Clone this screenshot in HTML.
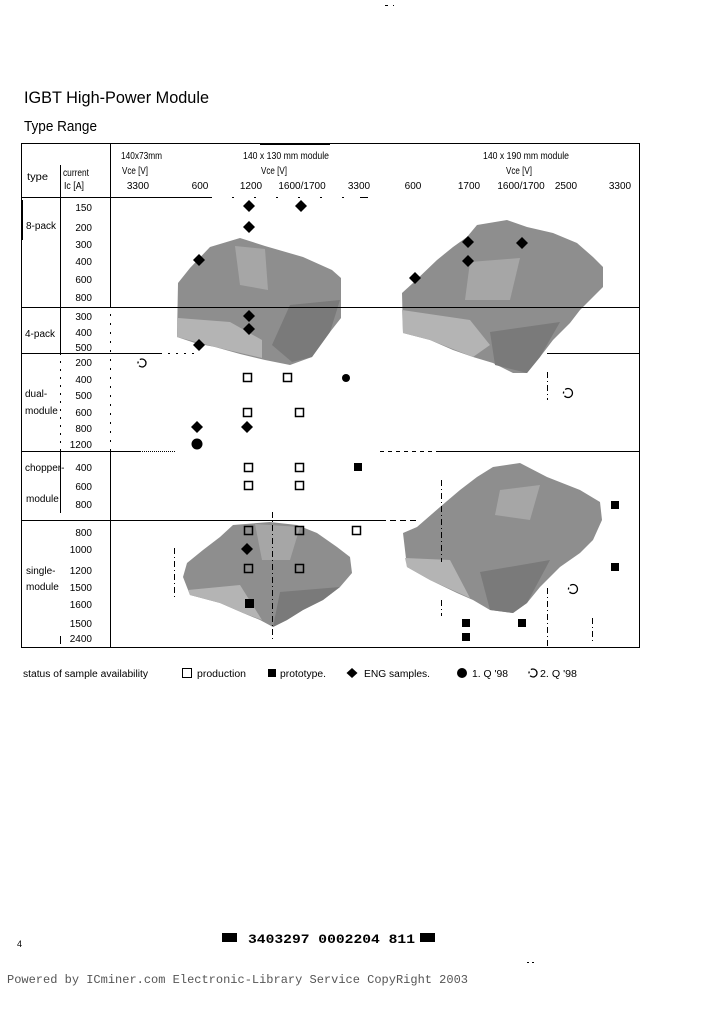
<!DOCTYPE html>
<html><head><meta charset="utf-8"><style>
html,body{margin:0;padding:0;background:#fff;}
svg{display:block;}
text{font-family:"Liberation Sans",sans-serif;fill:#000;}
.t{font-size:10px;}
</style></head><body>
<svg width="720" height="1012" viewBox="0 0 720 1012" xmlns="http://www.w3.org/2000/svg">
<rect width="720" height="1012" fill="#fff"/>

<!-- tiny top marks -->
<rect x="385" y="5" width="3" height="1" fill="#000"/><rect x="393" y="5" width="1" height="1" fill="#000"/>
<rect x="527" y="962" width="2" height="1" fill="#000"/><rect x="532" y="962" width="2" height="1" fill="#000"/>

<!-- titles -->
<text x="24" y="103" font-size="16.5" textLength="185" lengthAdjust="spacingAndGlyphs">IGBT High-Power Module</text>
<text x="24" y="131" font-size="14.5" textLength="73" lengthAdjust="spacingAndGlyphs">Type Range</text>

<!-- blobs -->
<g>
<polygon fill="#8e8e8e" points="210,247 240,238 265,246 303,257 332,270 341,278 341,318 330,332 312,357 290,365 265,360 240,354 215,347 195,343 177,337 178,283 190,268"/>
<polygon fill="#b4b4b4" points="178,318 230,322 262,340 262,358 215,347 177,337"/>
<polygon fill="#a6a6a6" points="235,246 265,249 268,290 240,285"/>
<polygon fill="#7a7a7a" points="290,305 340,300 330,332 312,357 292,362 272,345"/>

<polygon fill="#8e8e8e" points="477,225 507,220 527,227 553,233 577,243 593,257 603,267 603,287 593,297 580,310 570,323 553,340 540,357 527,373 513,373 493,363 473,357 453,350 430,340 403,333 402,293 413,283 437,260 453,247 467,237"/>
<polygon fill="#b4b4b4" points="402,310 470,320 490,345 473,357 430,340 403,333"/>
<polygon fill="#a6a6a6" points="470,262 520,258 510,300 465,300"/>
<polygon fill="#7a7a7a" points="490,332 560,322 540,357 527,373 495,365"/>

<polygon fill="#8e8e8e" points="493,467 520,463 547,477 580,490 600,502 602,520 593,540 580,553 560,567 540,587 527,603 513,613 490,610 473,600 457,593 430,580 407,567 403,533 417,527 440,507 460,490 477,477"/>
<polygon fill="#b4b4b4" points="405,558 450,560 470,598 430,580 407,567"/>
<polygon fill="#a6a6a6" points="500,490 540,485 530,520 495,515"/>
<polygon fill="#7a7a7a" points="480,572 550,560 527,603 513,613 490,610"/>

<polygon fill="#8e8e8e" points="233,525 270,522 297,525 317,533 337,547 350,557 352,573 340,587 323,600 303,610 287,620 273,627 260,620 243,613 220,603 190,595 183,577 187,563 203,550 220,537"/>
<polygon fill="#b4b4b4" points="188,590 240,585 262,620 243,613 220,603 190,595"/>
<polygon fill="#a6a6a6" points="255,524 300,527 290,560 262,560"/>
<polygon fill="#7a7a7a" points="280,592 340,587 323,600 303,610 287,620 273,627"/>
</g>

<!-- table lines -->
<g stroke="#000" stroke-width="1" fill="none" shape-rendering="crispEdges">
<line x1="21" y1="143.5" x2="639" y2="143.5"/>
<line x1="260" y1="144.5" x2="330" y2="144.5"/>
<line x1="21.5" y1="143" x2="21.5" y2="648"/>
<line x1="22.5" y1="200" x2="22.5" y2="240"/>
<line x1="639.5" y1="143" x2="639.5" y2="648"/>
<line x1="21" y1="647.5" x2="640" y2="647.5"/>
<line x1="21" y1="197.5" x2="210" y2="197.5"/>
<line x1="210" y1="197.5" x2="360" y2="197.5" stroke-dasharray="2 20"/>
<line x1="360" y1="197.5" x2="368" y2="197.5"/>
<line x1="21" y1="307.5" x2="639" y2="307.5"/>
<line x1="21" y1="353.5" x2="160" y2="353.5"/>
<line x1="160" y1="353.5" x2="200" y2="353.5" stroke-dasharray="2 6"/>
<line x1="547" y1="353.5" x2="639" y2="353.5"/>
<line x1="21" y1="451.5" x2="140" y2="451.5"/>
<line x1="140" y1="451.5" x2="175" y2="451.5" stroke-dasharray="1 1"/>
<line x1="380" y1="451.5" x2="440" y2="451.5" stroke-dasharray="4 4"/>
<line x1="440" y1="451.5" x2="639" y2="451.5"/>
<line x1="21" y1="520.5" x2="380" y2="520.5"/>
<line x1="380" y1="520.5" x2="420" y2="520.5" stroke-dasharray="6 4"/>
<line x1="60.5" y1="165" x2="60.5" y2="353"/>
<line x1="60.5" y1="353" x2="60.5" y2="452" stroke-dasharray="2 6"/>
<line x1="60.5" y1="452" x2="60.5" y2="513"/>
<line x1="60.5" y1="636" x2="60.5" y2="644"/>
<line x1="110.5" y1="143" x2="110.5" y2="305"/>
<line x1="110.5" y1="305" x2="110.5" y2="452" stroke-dasharray="2 7"/>
<line x1="110.5" y1="452" x2="110.5" y2="648"/>
<g stroke-dasharray="6 3 1 3">
<line x1="174.5" y1="548" x2="174.5" y2="597"/>
<line x1="272.5" y1="512" x2="272.5" y2="640"/>
<line x1="441.5" y1="480" x2="441.5" y2="562"/>
<line x1="441.5" y1="600" x2="441.5" y2="616"/>
<line x1="547.5" y1="588" x2="547.5" y2="646"/>
<line x1="547.5" y1="372" x2="547.5" y2="400"/>
<line x1="592.5" y1="618" x2="592.5" y2="642"/>
</g>
</g>

<!-- header text -->
<g class="t">
<text x="27" y="180" textLength="21" lengthAdjust="spacingAndGlyphs">type</text>
<text x="63" y="176" textLength="26" lengthAdjust="spacingAndGlyphs">current</text>
<text x="64" y="189" textLength="20" lengthAdjust="spacingAndGlyphs">Ic [A]</text>
<text x="121" y="159" textLength="41" lengthAdjust="spacingAndGlyphs">140x73mm</text>
<text x="122" y="174" textLength="26" lengthAdjust="spacingAndGlyphs">Vce [V]</text>
<text x="243" y="159" textLength="86" lengthAdjust="spacingAndGlyphs">140 x 130 mm module</text>
<text x="261" y="174" textLength="26" lengthAdjust="spacingAndGlyphs">Vce [V]</text>
<text x="483" y="159" textLength="86" lengthAdjust="spacingAndGlyphs">140 x 190 mm module</text>
<text x="506" y="174" textLength="26" lengthAdjust="spacingAndGlyphs">Vce [V]</text>
<g text-anchor="middle">
<text x="138" y="189">3300</text>
<text x="200" y="189">600</text>
<text x="251" y="189">1200</text>
<text x="302" y="189">1600/1700</text>
<text x="359" y="189">3300</text>
<text x="413" y="189">600</text>
<text x="469" y="189">1700</text>
<text x="521" y="189">1600/1700</text>
<text x="566" y="189">2500</text>
<text x="620" y="189">3300</text>
</g>
</g>

<!-- row labels -->
<g class="t" text-anchor="end">
<text x="92" y="211">150</text>
<text x="92" y="231">200</text>
<text x="92" y="248">300</text>
<text x="92" y="265">400</text>
<text x="92" y="283">600</text>
<text x="92" y="301">800</text>
<text x="92" y="320">300</text>
<text x="92" y="336">400</text>
<text x="92" y="351">500</text>
<text x="92" y="366">200</text>
<text x="92" y="383">400</text>
<text x="92" y="399">500</text>
<text x="92" y="416">600</text>
<text x="92" y="432">800</text>
<text x="92" y="448">1200</text>
<text x="92" y="471">400</text>
<text x="92" y="490">600</text>
<text x="92" y="508">800</text>
<text x="92" y="536">800</text>
<text x="92" y="553">1000</text>
<text x="92" y="574">1200</text>
<text x="92" y="591">1500</text>
<text x="92" y="608">1600</text>
<text x="92" y="627">1500</text>
<text x="92" y="642">2400</text>
</g>
<g class="t">
<text x="26" y="229">8-pack</text>
<text x="25" y="337">4-pack</text>
<text x="25" y="397">dual-</text>
<text x="25" y="414">module</text>
<text x="25" y="471">chopper-</text>
<text x="26" y="502">module</text>
<text x="26" y="574">single-</text>
<text x="26" y="590">module</text>
</g>

<!-- markers -->
<g fill="#000">
<polygon points="249,200 255,206 249,212 243,206"/>
<polygon points="301,200 307,206 301,212 295,206"/>
<polygon points="249,221 255,227 249,233 243,227"/>
<polygon points="199,254 205,260 199,266 193,260"/>
<polygon points="249,310 255,316 249,322 243,316"/>
<polygon points="249,323 255,329 249,335 243,329"/>
<polygon points="199,339 205,345 199,351 193,345"/>
<polygon points="197,421 203,427 197,433 191,427"/>
<polygon points="247,421 253,427 247,433 241,427"/>
<polygon points="247,543 253,549 247,555 241,549"/>
<polygon points="468,236 474,242 468,248 462,242"/>
<polygon points="522,237 528,243 522,249 516,243"/>
<polygon points="468,255 474,261 468,267 462,261"/>
<polygon points="415,272 421,278 415,284 409,278"/>
<circle cx="346" cy="378" r="4"/>
<circle cx="197" cy="444" r="5.5"/>
<rect x="354" y="463" width="8" height="8"/>
<rect x="611" y="501" width="8" height="8"/>
<rect x="611" y="563" width="8" height="8"/>
<rect x="462" y="619" width="8" height="8"/>
<rect x="518" y="619" width="8" height="8"/>
<rect x="462" y="633" width="8" height="8"/>
<rect x="245" y="599" width="9" height="9"/>
</g>
<g fill="#fff" stroke="#000" stroke-width="1.5">
<rect x="243.5" y="373.5" width="8" height="8"/>
<rect x="283.5" y="373.5" width="8" height="8"/>
<rect x="243.5" y="408.5" width="8" height="8"/>
<rect x="295.5" y="408.5" width="8" height="8"/>
<rect x="244.5" y="463.5" width="8" height="8"/>
<rect x="295.5" y="463.5" width="8" height="8"/>
<rect x="244.5" y="481.5" width="8" height="8"/>
<rect x="295.5" y="481.5" width="8" height="8"/>
<rect x="352.5" y="526.5" width="8" height="8"/>
<rect x="244.5" y="526.5" width="8" height="8" fill="none"/>
<rect x="295.5" y="526.5" width="8" height="8" fill="none"/>
<rect x="244.5" y="564.5" width="8" height="8" fill="none"/>
<rect x="295.5" y="564.5" width="8" height="8" fill="none"/>
</g>
<g fill="none" stroke="#000" stroke-width="1.3">
<circle cx="142" cy="363" r="4" stroke-dasharray="9.5 2.5 2 2.5 9"/>
<circle cx="568" cy="393" r="4.5" stroke-dasharray="11 2.5 2 2.5 10.3"/>
<circle cx="573" cy="589" r="4.5" stroke-dasharray="11 2.5 2 2.5 10.3"/>
</g>

<!-- legend -->
<g class="t">
<text x="23" y="677" textLength="125" lengthAdjust="spacingAndGlyphs">status of sample availability</text>
<rect x="182.5" y="668.5" width="9" height="9" fill="none" stroke="#000" stroke-width="1"/>
<text x="197" y="677" textLength="49" lengthAdjust="spacingAndGlyphs">production</text>
<rect x="268" y="669" width="8" height="8" fill="#000"/>
<text x="280" y="677" textLength="46" lengthAdjust="spacingAndGlyphs">prototype.</text>
<polygon points="352,668 357.5,673 352,678 346.5,673" fill="#000"/>
<text x="364" y="677" textLength="66" lengthAdjust="spacingAndGlyphs">ENG samples.</text>
<circle cx="462" cy="673" r="5" fill="#000"/>
<text x="472" y="677" textLength="36" lengthAdjust="spacingAndGlyphs">1. Q '98</text>
<circle cx="533" cy="673" r="4" fill="none" stroke="#000" stroke-width="1.3" stroke-dasharray="9.5 2.5 2 2.5 9"/>
<text x="540" y="677" textLength="37" lengthAdjust="spacingAndGlyphs">2. Q '98</text>
</g>

<!-- footer -->
<text x="17" y="947" font-size="9">4</text>
<rect x="222" y="933" width="15" height="9" fill="#000"/>
<text x="248" y="943" font-weight="bold" font-size="13" textLength="167" lengthAdjust="spacingAndGlyphs" style="font-family:'Liberation Mono',monospace">3403297 0002204 811</text>
<rect x="420" y="933" width="15" height="9" fill="#000"/>
<text x="7" y="983" font-size="12.2" textLength="461" lengthAdjust="spacingAndGlyphs" style="font-family:'Liberation Mono',monospace;fill:#555">Powered by ICminer.com Electronic-Library Service CopyRight 2003</text>
</svg>
</body></html>
